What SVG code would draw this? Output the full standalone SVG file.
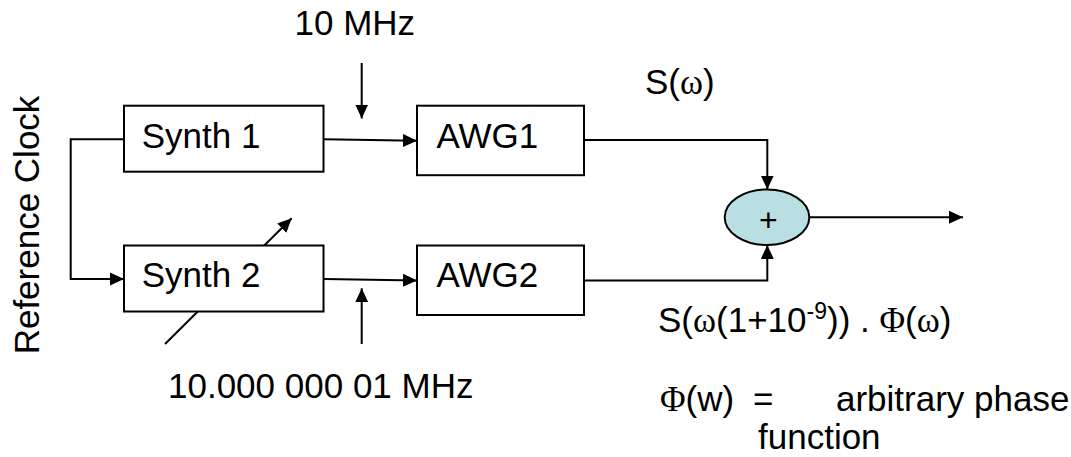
<svg xmlns="http://www.w3.org/2000/svg" width="1071" height="457" viewBox="0 0 1071 457">
<defs>
<marker id="ah" viewBox="0 0 14 14" refX="14" refY="7" markerWidth="14" markerHeight="14" markerUnits="userSpaceOnUse" orient="auto">
<path d="M0,0.5 L14,7 L0,13.5 Z" fill="#000"/>
</marker>
<style>
.t{font-family:"Liberation Sans",Arial,sans-serif;font-size:35px;fill:#000}
.g{font-family:"Liberation Serif","Times New Roman",serif}
.box{fill:#fff;stroke:#000;stroke-width:2}
.ln{fill:none;stroke:#000;stroke-width:2}
.arr{fill:none;stroke:#000;stroke-width:2;marker-end:url(#ah)}
</style>
</defs>
<rect width="1071" height="457" fill="#fff"/>
<g id="connectors">
<polyline class="ln" points="124,139.3 70.7,139.3 70.7,279 110,279"/>
<line class="arr" x1="70.7" y1="279" x2="124" y2="279"/>
<line class="arr" x1="324" y1="139.3" x2="417" y2="140.8"/>
<line class="arr" x1="324" y1="279" x2="417" y2="280.6"/>
<line class="arr" x1="361.7" y1="63" x2="361.7" y2="118.5"/>
<line class="arr" x1="361.7" y1="344" x2="361.7" y2="288.3"/>
<line class="arr" x1="165" y1="344" x2="291.7" y2="218.3"/>
<polyline class="arr" points="584,140 767.3,140 767.3,189.5"/>
<polyline class="arr" points="584,280.5 767.3,280.5 767.3,245"/>
<line class="arr" x1="809.5" y1="217.3" x2="963" y2="217.3"/>
</g>
<g id="synth1"><rect class="box" x="124" y="105.7" width="199.5" height="66"/><text class="t" x="141.7" y="148.3">Synth 1</text></g>
<g id="synth2"><rect class="box" x="124" y="245.5" width="199.5" height="66"/><text class="t" x="141.7" y="287">Synth 2</text></g>
<g id="awg1"><rect class="box" x="417" y="105.7" width="167" height="69.5"/><text class="t" x="436.5" y="148">AWG1</text></g>
<g id="awg2"><rect class="box" x="417" y="245.5" width="167" height="69.5"/><text class="t" x="436.5" y="287">AWG2</text></g>
<g id="sum"><ellipse cx="767" cy="217.2" rx="42.3" ry="27.8" fill="#b9dfe3" stroke="#000" stroke-width="2"/><text class="t" x="768.4" y="230.5" text-anchor="middle" style="font-size:32px">+</text></g>
<text class="t" transform="translate(39,225) rotate(-90)" text-anchor="middle">Reference Clock</text>
<text class="t" x="294.5" y="35">10 MHz</text>
<text class="t" x="168" y="398.3">10.000 000 01 MHz</text>
<text class="t" x="645" y="93.5">S(<tspan class="g">ω</tspan>)</text>
<text class="t" x="658" y="332">S(<tspan class="g">ω</tspan>(1+10<tspan dy="-13" style="font-size:23px">-9</tspan><tspan dy="13">)) . </tspan><tspan class="g">Φ</tspan>(<tspan class="g">ω</tspan>)</text>
<text class="t" x="660" y="411"><tspan class="g">Φ</tspan>(w)<tspan x="753">=</tspan><tspan x="836">arbitrary phase</tspan></text>
<text class="t" x="758" y="449">function</text>
</svg>
